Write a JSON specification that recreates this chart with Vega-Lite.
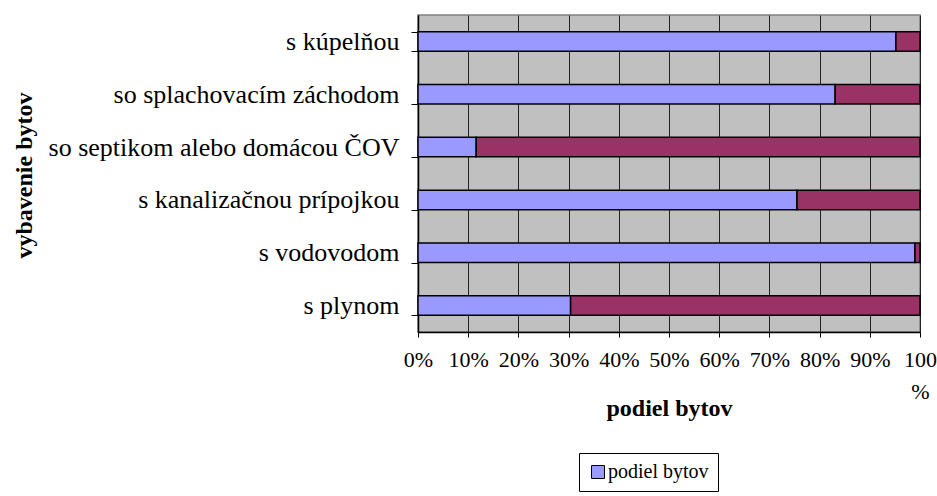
{
  "$schema": "https://vega.github.io/schema/vega-lite/v6.json",
  "width": 502,
  "height": 317,
  "autosize": {"type": "none"},
  "padding": {"left": 418, "top": 15, "right": 17, "bottom": 164},
  "background": "white",
  "config": {
    "font": "Liberation Serif, Times New Roman, serif",
    "view": {"fill": "#C0C0C0", "stroke": "#808080", "strokeWidth": 1.5}
  },
  "data": {
    "values": [
      {"vybavenie": "s kúpelňou ", "rad": "podiel bytov", "poradie": 1, "podiel": 0.952},
      {"vybavenie": "s kúpelňou ", "rad": "ostatné", "poradie": 2, "podiel": 0.048},
      {"vybavenie": "so splachovacím záchodom", "rad": "podiel bytov", "poradie": 1, "podiel": 0.831},
      {"vybavenie": "so splachovacím záchodom", "rad": "ostatné", "poradie": 2, "podiel": 0.169},
      {"vybavenie": "so septikom alebo domácou ČOV", "rad": "podiel bytov", "poradie": 1, "podiel": 0.116},
      {"vybavenie": "so septikom alebo domácou ČOV", "rad": "ostatné", "poradie": 2, "podiel": 0.884},
      {"vybavenie": "s kanalizačnou prípojkou ", "rad": "podiel bytov", "poradie": 1, "podiel": 0.755},
      {"vybavenie": "s kanalizačnou prípojkou ", "rad": "ostatné", "poradie": 2, "podiel": 0.245},
      {"vybavenie": "s vodovodom", "rad": "podiel bytov", "poradie": 1, "podiel": 0.99},
      {"vybavenie": "s vodovodom", "rad": "ostatné", "poradie": 2, "podiel": 0.01},
      {"vybavenie": "s plynom", "rad": "podiel bytov", "poradie": 1, "podiel": 0.304},
      {"vybavenie": "s plynom", "rad": "ostatné", "poradie": 2, "podiel": 0.696}
    ]
  },
  "mark": {"type": "bar", "stroke": "black", "strokeWidth": 1.5},
  "encoding": {
    "y": {
      "field": "vybavenie",
      "type": "nominal",
      "sort": null,
      "scale": {"paddingInner": 0.63, "paddingOuter": 0.315},
      "axis": {
        "title": "vybavenie bytov",
        "titleFont": "Liberation Serif, Times New Roman, serif",
        "titleFontSize": 24,
        "titleFontWeight": "bold",
        "titleColor": "black",
        "titleX": -394,
        "titleY": 160,
        "titleAlign": "center",
        "titleBaseline": "middle",
        "titleAngle": -90,
        "labelFont": "Liberation Serif, Times New Roman, serif",
        "labelFontSize": 26,
        "labelColor": "black",
        "labelLimit": 0,
        "labelPadding": 12,
        "tickSize": 7,
        "tickColor": "black",
        "tickBand": "extent",
        "domainColor": "black",
        "domainWidth": 1.5,
        "grid": false
      }
    },
    "x": {
      "field": "podiel",
      "type": "quantitative",
      "stack": "zero",
      "scale": {"domain": [0, 1], "nice": false},
      "axis": {
        "title": "podiel bytov",
        "titleFont": "Liberation Serif, Times New Roman, serif",
        "titleFontSize": 24,
        "titleFontWeight": "bold",
        "titleColor": "black",
        "titleY": 83,
        "titleBaseline": "alphabetic",
        "values": [0, 0.1, 0.2, 0.3, 0.4, 0.5, 0.6, 0.7, 0.8, 0.9, 1],
        "format": ".0%",
        "labelExpr": "datum.value >= 0.999 ? ['100', '%'] : datum.label",
        "labelFont": "Liberation Serif, Times New Roman, serif",
        "labelFontSize": 22,
        "labelColor": "black",
        "labelLineHeight": 32,
        "labelFlush": false,
        "labelOverlap": false,
        "labelBound": false,
        "labelPadding": 12,
        "tickSize": 5,
        "tickColor": "black",
        "domainColor": "black",
        "domainWidth": 1.5,
        "grid": true,
        "gridColor": "#222222",
        "gridWidth": 1
      }
    },
    "color": {
      "field": "rad",
      "type": "nominal",
      "scale": {"domain": ["podiel bytov", "ostatné"], "range": ["#9999FF", "#993366"]},
      "legend": {
        "values": ["podiel bytov"],
        "title": null,
        "orient": "none",
        "legendX": 161,
        "legendY": 438,
        "strokeColor": "black",
        "padding": 9,
        "symbolType": "square",
        "symbolSize": 169,
        "symbolStrokeColor": "black",
        "symbolStrokeWidth": 1,
        "symbolOpacity": 1,
        "labelFont": "Liberation Serif, Times New Roman, serif",
        "labelFontSize": 20,
        "labelColor": "black",
        "labelOffset": 0
      }
    },
    "order": {"field": "poradie", "type": "quantitative"}
  }
}
